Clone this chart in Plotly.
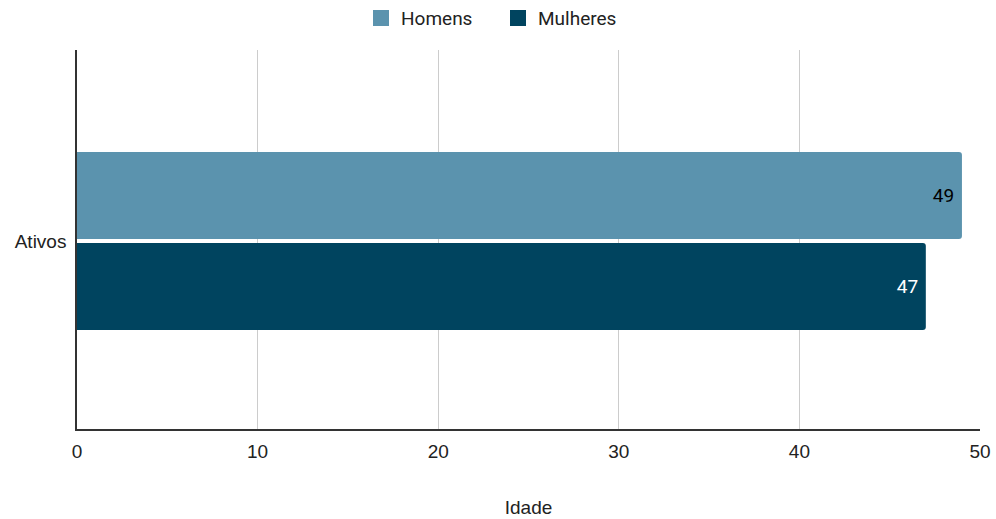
import plotly.graph_objects as go

categories = ["Ativos"]
homens = [49]
mulheres = [47]
x_ticks = [0, 10, 20, 30, 40, 50]
series_names = ["Homens", "Mulheres"]
series_colors = ["#5b93ae", "#00445f"]
label_colors = ["#000000", "#ffffff"]

fig = go.Figure()
for name, vals, col, lcol in zip(series_names, [homens, mulheres], series_colors, label_colors):
    fig.add_trace(go.Bar(
        y=categories, x=vals, name=name, orientation="h", showlegend=False,
        marker=dict(color=col, line=dict(width=0)),
        text=[str(v) + " " for v in vals], textposition="inside", insidetextanchor="end",
        textfont=dict(color=lcol, size=19, family="Roboto"),
    ))
# legend entries (larger square swatches)
for name, col in zip(series_names, series_colors):
    fig.add_trace(go.Scatter(
        x=[None], y=[None], mode="markers", name=name,
        marker=dict(symbol="square", size=16, color=col),
    ))

fig.update_layout(
    width=996, height=519,
    margin=dict(l=77, r=16, t=50, b=90, autoexpand=False),
    plot_bgcolor="white", paper_bgcolor="white",
    barmode="group", bargap=0.52, bargroupgap=0.045,
    barcornerradius=3,
    font=dict(family="Liberation Sans, Arial", size=19, color="#222222"),
    legend=dict(orientation="h", x=0.5, xanchor="center", xref="container",
                y=0.965, yanchor="middle", yref="container",
                font=dict(size=19, color="#222222", family="Roboto"),
                itemsizing="trace", entrywidth=92),
    uniformtext=dict(mode=False),
)
fig.update_xaxes(
    range=[0, 50], tickvals=x_ticks, ticktext=[str(t) for t in x_ticks],
    showgrid=True, gridcolor="#cccccc", gridwidth=1,
    showline=True, linecolor="#333333", linewidth=1.5,
    zeroline=False, ticks="", ticklabelstandoff=4, automargin=False,
    title=dict(text="Idade", font=dict(size=19), standoff=40),
)
fig.update_yaxes(
    range=[0.496, -0.504], showgrid=False,
    showline=True, linecolor="#333333", linewidth=1.5,
    ticks="", ticklabelstandoff=5, automargin=False,
)

fig.write_html("out.html", config={"displayModeBar": False},
               post_script="document.body.style.margin='0';document.body.style.overflow='hidden';")
